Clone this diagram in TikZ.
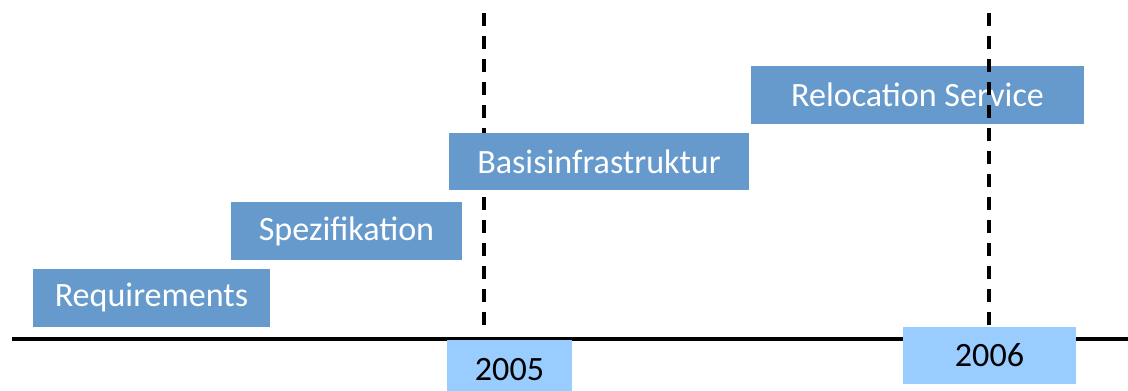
\documentclass[tikz,border=0pt]{standalone}
\usepackage{fontspec}
\setmainfont{Carlito}
\definecolor{phase}{HTML}{6699CC}
\definecolor{yearbg}{HTML}{99CCFF}
\tikzset{
  phasebox/.style={fill=phase,text=white,inner sep=0pt,minimum height=1.16cm,font=\fontsize{19.4}{22}\selectfont},
  yearbox/.style={fill=yearbg,text=black,inner sep=0pt,minimum height=1.14cm,minimum width=2.5cm,font=\fontsize{19.4}{22}\selectfont},
  marker/.style={line width=2.2pt,dash pattern=on 0.26cm off 0.2cm}
}
\begin{document}
\begin{tikzpicture}[x=0.02cm,y=-0.02cm]
\useasboundingbox (0,0) rectangle (1128,391);

% axis
\coordinate (axl) at (12,339);
\coordinate (axr) at (1128,339);
\draw[line width=2.2pt] (axl) -- (axr);

% phases
\node[phasebox,minimum width=4.74cm] (req) at (151.5,298) {Requirements};
\node[phasebox,minimum width=4.62cm] (spez) at (346.5,231) {Spezifikation};
\node[phasebox,minimum width=6.66cm] (reloc) at (917.5,95) {Relocation Service};

% year markers
\coordinate (m5top) at (484,13);
\coordinate (m5bot) at (484,330);
\coordinate (m6top) at (989,13);
\coordinate (m6bot) at (989,328);
\draw[marker] (m5top) -- (m5bot);
\draw[marker] (m6top) -- (m6bot);

\node[phasebox,minimum width=6.0cm,minimum height=1.14cm] (basis) at (599,161.5) {Basisinfrastruktur};

\node[yearbox,minimum height=1.2cm] (y2005) at (509.5,370) {2005};
\node[yearbox,minimum width=3.46cm] (y2006) at (989.5,355.5) {2006};
\end{tikzpicture}
\end{document}
